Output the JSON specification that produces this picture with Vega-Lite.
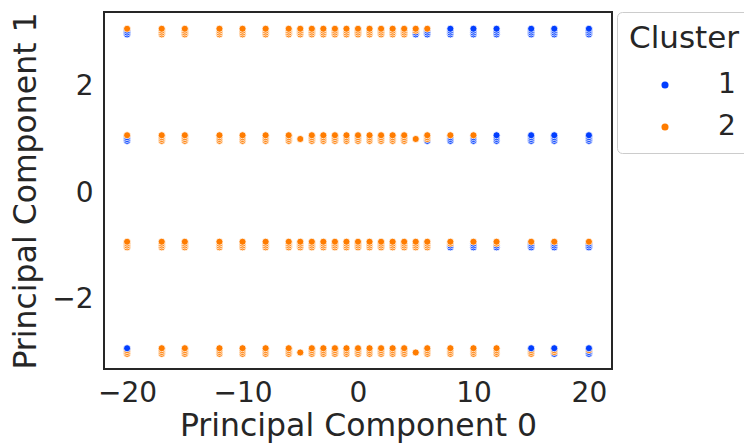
{
  "$schema": "https://vega.github.io/schema/vega-lite/v6.json",
  "width": 508,
  "height": 357,
  "autosize": "none",
  "padding": {"left": 104, "top": 12, "right": 132, "bottom": 77},
  "background": "white",
  "config": {
    "font": "DejaVu Sans",
    "view": {"stroke": "#262626", "strokeWidth": 2},
    "axis": {
      "grid": false, "domain": false, "ticks": false, "tickSize": 0,
      "labelFont": "DejaVu Sans", "labelFontSize": 28, "labelColor": "#262626",
      "titleFont": "DejaVu Sans", "titleFontSize": 31.5, "titleFontWeight": "normal", "titleColor": "#262626"
    }
  },
  "data": {"values": [
    {"pc0": -20, "pc1": 2.985, "Cluster": "1"}, {"pc0": -20, "pc1": 3.02, "Cluster": "1"}, {"pc0": -20, "pc1": 3.055, "Cluster": "1"}, {"pc0": -20, "pc1": 3.09, "Cluster": "2"},
    {"pc0": -17, "pc1": 2.985, "Cluster": "2"}, {"pc0": -17, "pc1": 3.02, "Cluster": "2"}, {"pc0": -17, "pc1": 3.055, "Cluster": "2"}, {"pc0": -17, "pc1": 3.09, "Cluster": "2"},
    {"pc0": -15, "pc1": 2.985, "Cluster": "2"}, {"pc0": -15, "pc1": 3.02, "Cluster": "2"}, {"pc0": -15, "pc1": 3.055, "Cluster": "2"}, {"pc0": -15, "pc1": 3.09, "Cluster": "2"},
    {"pc0": -12, "pc1": 2.985, "Cluster": "2"}, {"pc0": -12, "pc1": 3.02, "Cluster": "2"}, {"pc0": -12, "pc1": 3.055, "Cluster": "2"}, {"pc0": -12, "pc1": 3.09, "Cluster": "2"},
    {"pc0": -10, "pc1": 2.985, "Cluster": "2"}, {"pc0": -10, "pc1": 3.02, "Cluster": "2"}, {"pc0": -10, "pc1": 3.055, "Cluster": "2"}, {"pc0": -10, "pc1": 3.09, "Cluster": "2"},
    {"pc0": -8, "pc1": 2.985, "Cluster": "2"}, {"pc0": -8, "pc1": 3.02, "Cluster": "2"}, {"pc0": -8, "pc1": 3.055, "Cluster": "2"}, {"pc0": -8, "pc1": 3.09, "Cluster": "2"},
    {"pc0": -6, "pc1": 2.985, "Cluster": "2"}, {"pc0": -6, "pc1": 3.02, "Cluster": "2"}, {"pc0": -6, "pc1": 3.055, "Cluster": "2"}, {"pc0": -6, "pc1": 3.09, "Cluster": "2"},
    {"pc0": -5, "pc1": 2.985, "Cluster": "2"}, {"pc0": -5, "pc1": 3.02, "Cluster": "2"}, {"pc0": -5, "pc1": 3.055, "Cluster": "2"}, {"pc0": -5, "pc1": 3.09, "Cluster": "2"},
    {"pc0": -4, "pc1": 2.985, "Cluster": "2"}, {"pc0": -4, "pc1": 3.02, "Cluster": "2"}, {"pc0": -4, "pc1": 3.055, "Cluster": "2"}, {"pc0": -4, "pc1": 3.09, "Cluster": "2"},
    {"pc0": -3, "pc1": 2.985, "Cluster": "2"}, {"pc0": -3, "pc1": 3.02, "Cluster": "2"}, {"pc0": -3, "pc1": 3.055, "Cluster": "2"}, {"pc0": -3, "pc1": 3.09, "Cluster": "2"},
    {"pc0": -2, "pc1": 2.985, "Cluster": "2"}, {"pc0": -2, "pc1": 3.02, "Cluster": "2"}, {"pc0": -2, "pc1": 3.055, "Cluster": "2"}, {"pc0": -2, "pc1": 3.09, "Cluster": "2"},
    {"pc0": -1, "pc1": 2.985, "Cluster": "2"}, {"pc0": -1, "pc1": 3.02, "Cluster": "2"}, {"pc0": -1, "pc1": 3.055, "Cluster": "2"}, {"pc0": -1, "pc1": 3.09, "Cluster": "2"},
    {"pc0": 0, "pc1": 2.985, "Cluster": "2"}, {"pc0": 0, "pc1": 3.02, "Cluster": "2"}, {"pc0": 0, "pc1": 3.055, "Cluster": "2"}, {"pc0": 0, "pc1": 3.09, "Cluster": "2"},
    {"pc0": 1, "pc1": 2.985, "Cluster": "2"}, {"pc0": 1, "pc1": 3.02, "Cluster": "2"}, {"pc0": 1, "pc1": 3.055, "Cluster": "2"}, {"pc0": 1, "pc1": 3.09, "Cluster": "2"},
    {"pc0": 2, "pc1": 2.985, "Cluster": "2"}, {"pc0": 2, "pc1": 3.02, "Cluster": "2"}, {"pc0": 2, "pc1": 3.055, "Cluster": "2"}, {"pc0": 2, "pc1": 3.09, "Cluster": "2"},
    {"pc0": 3, "pc1": 2.985, "Cluster": "2"}, {"pc0": 3, "pc1": 3.02, "Cluster": "2"}, {"pc0": 3, "pc1": 3.055, "Cluster": "2"}, {"pc0": 3, "pc1": 3.09, "Cluster": "2"},
    {"pc0": 4, "pc1": 2.985, "Cluster": "2"}, {"pc0": 4, "pc1": 3.02, "Cluster": "2"}, {"pc0": 4, "pc1": 3.055, "Cluster": "2"}, {"pc0": 4, "pc1": 3.09, "Cluster": "2"},
    {"pc0": 5, "pc1": 2.985, "Cluster": "1"}, {"pc0": 5, "pc1": 3.02, "Cluster": "1"}, {"pc0": 5, "pc1": 3.055, "Cluster": "2"}, {"pc0": 5, "pc1": 3.09, "Cluster": "2"},
    {"pc0": 6, "pc1": 2.985, "Cluster": "1"}, {"pc0": 6, "pc1": 3.02, "Cluster": "1"}, {"pc0": 6, "pc1": 3.055, "Cluster": "1"}, {"pc0": 6, "pc1": 3.09, "Cluster": "2"},
    {"pc0": 8, "pc1": 2.985, "Cluster": "1"}, {"pc0": 8, "pc1": 3.02, "Cluster": "1"}, {"pc0": 8, "pc1": 3.055, "Cluster": "1"}, {"pc0": 8, "pc1": 3.09, "Cluster": "1"},
    {"pc0": 10, "pc1": 2.985, "Cluster": "1"}, {"pc0": 10, "pc1": 3.02, "Cluster": "1"}, {"pc0": 10, "pc1": 3.055, "Cluster": "1"}, {"pc0": 10, "pc1": 3.09, "Cluster": "1"},
    {"pc0": 12, "pc1": 2.985, "Cluster": "1"}, {"pc0": 12, "pc1": 3.02, "Cluster": "1"}, {"pc0": 12, "pc1": 3.055, "Cluster": "1"}, {"pc0": 12, "pc1": 3.09, "Cluster": "1"},
    {"pc0": 15, "pc1": 2.985, "Cluster": "1"}, {"pc0": 15, "pc1": 3.02, "Cluster": "1"}, {"pc0": 15, "pc1": 3.055, "Cluster": "1"}, {"pc0": 15, "pc1": 3.09, "Cluster": "1"},
    {"pc0": 17, "pc1": 2.985, "Cluster": "1"}, {"pc0": 17, "pc1": 3.02, "Cluster": "1"}, {"pc0": 17, "pc1": 3.055, "Cluster": "1"}, {"pc0": 17, "pc1": 3.09, "Cluster": "1"},
    {"pc0": 20, "pc1": 2.985, "Cluster": "1"}, {"pc0": 20, "pc1": 3.02, "Cluster": "1"}, {"pc0": 20, "pc1": 3.055, "Cluster": "1"}, {"pc0": 20, "pc1": 3.09, "Cluster": "1"},

    {"pc0": -20, "pc1": 0.985, "Cluster": "1"}, {"pc0": -20, "pc1": 1.02, "Cluster": "1"}, {"pc0": -20, "pc1": 1.055, "Cluster": "1"}, {"pc0": -20, "pc1": 1.09, "Cluster": "2"},
    {"pc0": -17, "pc1": 0.985, "Cluster": "2"}, {"pc0": -17, "pc1": 1.02, "Cluster": "2"}, {"pc0": -17, "pc1": 1.055, "Cluster": "2"}, {"pc0": -17, "pc1": 1.09, "Cluster": "2"},
    {"pc0": -15, "pc1": 0.985, "Cluster": "2"}, {"pc0": -15, "pc1": 1.02, "Cluster": "2"}, {"pc0": -15, "pc1": 1.055, "Cluster": "2"}, {"pc0": -15, "pc1": 1.09, "Cluster": "2"},
    {"pc0": -12, "pc1": 0.985, "Cluster": "2"}, {"pc0": -12, "pc1": 1.02, "Cluster": "2"}, {"pc0": -12, "pc1": 1.055, "Cluster": "2"}, {"pc0": -12, "pc1": 1.09, "Cluster": "2"},
    {"pc0": -10, "pc1": 0.985, "Cluster": "2"}, {"pc0": -10, "pc1": 1.02, "Cluster": "2"}, {"pc0": -10, "pc1": 1.055, "Cluster": "2"}, {"pc0": -10, "pc1": 1.09, "Cluster": "2"},
    {"pc0": -8, "pc1": 0.985, "Cluster": "2"}, {"pc0": -8, "pc1": 1.02, "Cluster": "2"}, {"pc0": -8, "pc1": 1.055, "Cluster": "2"}, {"pc0": -8, "pc1": 1.09, "Cluster": "2"},
    {"pc0": -6, "pc1": 0.985, "Cluster": "2"}, {"pc0": -6, "pc1": 1.02, "Cluster": "2"}, {"pc0": -6, "pc1": 1.055, "Cluster": "2"}, {"pc0": -6, "pc1": 1.09, "Cluster": "2"},
    {"pc0": -5, "pc1": 1.02, "Cluster": "2"},
    {"pc0": -4, "pc1": 0.985, "Cluster": "2"}, {"pc0": -4, "pc1": 1.02, "Cluster": "2"}, {"pc0": -4, "pc1": 1.055, "Cluster": "2"}, {"pc0": -4, "pc1": 1.09, "Cluster": "2"},
    {"pc0": -3, "pc1": 0.985, "Cluster": "2"}, {"pc0": -3, "pc1": 1.02, "Cluster": "2"}, {"pc0": -3, "pc1": 1.055, "Cluster": "2"}, {"pc0": -3, "pc1": 1.09, "Cluster": "2"},
    {"pc0": -2, "pc1": 0.985, "Cluster": "2"}, {"pc0": -2, "pc1": 1.02, "Cluster": "2"}, {"pc0": -2, "pc1": 1.055, "Cluster": "2"}, {"pc0": -2, "pc1": 1.09, "Cluster": "2"},
    {"pc0": -1, "pc1": 0.985, "Cluster": "2"}, {"pc0": -1, "pc1": 1.02, "Cluster": "2"}, {"pc0": -1, "pc1": 1.055, "Cluster": "2"}, {"pc0": -1, "pc1": 1.09, "Cluster": "2"},
    {"pc0": 0, "pc1": 0.985, "Cluster": "2"}, {"pc0": 0, "pc1": 1.02, "Cluster": "2"}, {"pc0": 0, "pc1": 1.055, "Cluster": "2"}, {"pc0": 0, "pc1": 1.09, "Cluster": "2"},
    {"pc0": 1, "pc1": 0.985, "Cluster": "2"}, {"pc0": 1, "pc1": 1.02, "Cluster": "2"}, {"pc0": 1, "pc1": 1.055, "Cluster": "2"}, {"pc0": 1, "pc1": 1.09, "Cluster": "2"},
    {"pc0": 2, "pc1": 0.985, "Cluster": "2"}, {"pc0": 2, "pc1": 1.02, "Cluster": "2"}, {"pc0": 2, "pc1": 1.055, "Cluster": "2"}, {"pc0": 2, "pc1": 1.09, "Cluster": "2"},
    {"pc0": 3, "pc1": 0.985, "Cluster": "2"}, {"pc0": 3, "pc1": 1.02, "Cluster": "2"}, {"pc0": 3, "pc1": 1.055, "Cluster": "2"}, {"pc0": 3, "pc1": 1.09, "Cluster": "2"},
    {"pc0": 4, "pc1": 0.985, "Cluster": "2"}, {"pc0": 4, "pc1": 1.02, "Cluster": "2"}, {"pc0": 4, "pc1": 1.055, "Cluster": "2"}, {"pc0": 4, "pc1": 1.09, "Cluster": "2"},
    {"pc0": 5, "pc1": 1.02, "Cluster": "2"},
    {"pc0": 6, "pc1": 0.985, "Cluster": "1"}, {"pc0": 6, "pc1": 1.02, "Cluster": "2"}, {"pc0": 6, "pc1": 1.055, "Cluster": "2"}, {"pc0": 6, "pc1": 1.09, "Cluster": "2"},
    {"pc0": 8, "pc1": 0.985, "Cluster": "1"}, {"pc0": 8, "pc1": 1.02, "Cluster": "1"}, {"pc0": 8, "pc1": 1.055, "Cluster": "1"}, {"pc0": 8, "pc1": 1.09, "Cluster": "2"},
    {"pc0": 10, "pc1": 0.985, "Cluster": "1"}, {"pc0": 10, "pc1": 1.02, "Cluster": "1"}, {"pc0": 10, "pc1": 1.055, "Cluster": "1"}, {"pc0": 10, "pc1": 1.09, "Cluster": "2"},
    {"pc0": 12, "pc1": 0.985, "Cluster": "1"}, {"pc0": 12, "pc1": 1.02, "Cluster": "1"}, {"pc0": 12, "pc1": 1.055, "Cluster": "1"}, {"pc0": 12, "pc1": 1.09, "Cluster": "1"},
    {"pc0": 15, "pc1": 0.985, "Cluster": "1"}, {"pc0": 15, "pc1": 1.02, "Cluster": "1"}, {"pc0": 15, "pc1": 1.055, "Cluster": "1"}, {"pc0": 15, "pc1": 1.09, "Cluster": "1"},
    {"pc0": 17, "pc1": 0.985, "Cluster": "1"}, {"pc0": 17, "pc1": 1.02, "Cluster": "1"}, {"pc0": 17, "pc1": 1.055, "Cluster": "1"}, {"pc0": 17, "pc1": 1.09, "Cluster": "1"},
    {"pc0": 20, "pc1": 0.985, "Cluster": "1"}, {"pc0": 20, "pc1": 1.02, "Cluster": "1"}, {"pc0": 20, "pc1": 1.055, "Cluster": "1"}, {"pc0": 20, "pc1": 1.09, "Cluster": "1"},

    {"pc0": -20, "pc1": -1.015, "Cluster": "2"}, {"pc0": -20, "pc1": -0.98, "Cluster": "2"}, {"pc0": -20, "pc1": -0.945, "Cluster": "2"}, {"pc0": -20, "pc1": -0.91, "Cluster": "2"},
    {"pc0": -17, "pc1": -1.015, "Cluster": "2"}, {"pc0": -17, "pc1": -0.98, "Cluster": "2"}, {"pc0": -17, "pc1": -0.945, "Cluster": "2"}, {"pc0": -17, "pc1": -0.91, "Cluster": "2"},
    {"pc0": -15, "pc1": -1.015, "Cluster": "2"}, {"pc0": -15, "pc1": -0.98, "Cluster": "2"}, {"pc0": -15, "pc1": -0.945, "Cluster": "2"}, {"pc0": -15, "pc1": -0.91, "Cluster": "2"},
    {"pc0": -12, "pc1": -1.015, "Cluster": "2"}, {"pc0": -12, "pc1": -0.98, "Cluster": "2"}, {"pc0": -12, "pc1": -0.945, "Cluster": "2"}, {"pc0": -12, "pc1": -0.91, "Cluster": "2"},
    {"pc0": -10, "pc1": -1.015, "Cluster": "2"}, {"pc0": -10, "pc1": -0.98, "Cluster": "2"}, {"pc0": -10, "pc1": -0.945, "Cluster": "2"}, {"pc0": -10, "pc1": -0.91, "Cluster": "2"},
    {"pc0": -8, "pc1": -1.015, "Cluster": "2"}, {"pc0": -8, "pc1": -0.98, "Cluster": "2"}, {"pc0": -8, "pc1": -0.945, "Cluster": "2"}, {"pc0": -8, "pc1": -0.91, "Cluster": "2"},
    {"pc0": -6, "pc1": -1.015, "Cluster": "2"}, {"pc0": -6, "pc1": -0.98, "Cluster": "2"}, {"pc0": -6, "pc1": -0.945, "Cluster": "2"}, {"pc0": -6, "pc1": -0.91, "Cluster": "2"},
    {"pc0": -5, "pc1": -1.015, "Cluster": "2"}, {"pc0": -5, "pc1": -0.98, "Cluster": "2"}, {"pc0": -5, "pc1": -0.945, "Cluster": "2"}, {"pc0": -5, "pc1": -0.91, "Cluster": "2"},
    {"pc0": -4, "pc1": -1.015, "Cluster": "2"}, {"pc0": -4, "pc1": -0.98, "Cluster": "2"}, {"pc0": -4, "pc1": -0.945, "Cluster": "2"}, {"pc0": -4, "pc1": -0.91, "Cluster": "2"},
    {"pc0": -3, "pc1": -1.015, "Cluster": "2"}, {"pc0": -3, "pc1": -0.98, "Cluster": "2"}, {"pc0": -3, "pc1": -0.945, "Cluster": "2"}, {"pc0": -3, "pc1": -0.91, "Cluster": "2"},
    {"pc0": -2, "pc1": -1.015, "Cluster": "2"}, {"pc0": -2, "pc1": -0.98, "Cluster": "2"}, {"pc0": -2, "pc1": -0.945, "Cluster": "2"}, {"pc0": -2, "pc1": -0.91, "Cluster": "2"},
    {"pc0": -1, "pc1": -1.015, "Cluster": "2"}, {"pc0": -1, "pc1": -0.98, "Cluster": "2"}, {"pc0": -1, "pc1": -0.945, "Cluster": "2"}, {"pc0": -1, "pc1": -0.91, "Cluster": "2"},
    {"pc0": 0, "pc1": -1.015, "Cluster": "2"}, {"pc0": 0, "pc1": -0.98, "Cluster": "2"}, {"pc0": 0, "pc1": -0.945, "Cluster": "2"}, {"pc0": 0, "pc1": -0.91, "Cluster": "2"},
    {"pc0": 1, "pc1": -1.015, "Cluster": "2"}, {"pc0": 1, "pc1": -0.98, "Cluster": "2"}, {"pc0": 1, "pc1": -0.945, "Cluster": "2"}, {"pc0": 1, "pc1": -0.91, "Cluster": "2"},
    {"pc0": 2, "pc1": -1.015, "Cluster": "2"}, {"pc0": 2, "pc1": -0.98, "Cluster": "2"}, {"pc0": 2, "pc1": -0.945, "Cluster": "2"}, {"pc0": 2, "pc1": -0.91, "Cluster": "2"},
    {"pc0": 3, "pc1": -1.015, "Cluster": "2"}, {"pc0": 3, "pc1": -0.98, "Cluster": "2"}, {"pc0": 3, "pc1": -0.945, "Cluster": "2"}, {"pc0": 3, "pc1": -0.91, "Cluster": "2"},
    {"pc0": 4, "pc1": -1.015, "Cluster": "2"}, {"pc0": 4, "pc1": -0.98, "Cluster": "2"}, {"pc0": 4, "pc1": -0.945, "Cluster": "2"}, {"pc0": 4, "pc1": -0.91, "Cluster": "2"},
    {"pc0": 5, "pc1": -1.015, "Cluster": "2"}, {"pc0": 5, "pc1": -0.98, "Cluster": "2"}, {"pc0": 5, "pc1": -0.945, "Cluster": "2"}, {"pc0": 5, "pc1": -0.91, "Cluster": "2"},
    {"pc0": 6, "pc1": -1.015, "Cluster": "2"}, {"pc0": 6, "pc1": -0.98, "Cluster": "2"}, {"pc0": 6, "pc1": -0.945, "Cluster": "2"}, {"pc0": 6, "pc1": -0.91, "Cluster": "2"},
    {"pc0": 8, "pc1": -1.015, "Cluster": "1"}, {"pc0": 8, "pc1": -0.98, "Cluster": "1"}, {"pc0": 8, "pc1": -0.945, "Cluster": "2"}, {"pc0": 8, "pc1": -0.91, "Cluster": "2"},
    {"pc0": 10, "pc1": -1.015, "Cluster": "1"}, {"pc0": 10, "pc1": -0.98, "Cluster": "1"}, {"pc0": 10, "pc1": -0.945, "Cluster": "1"}, {"pc0": 10, "pc1": -0.91, "Cluster": "2"},
    {"pc0": 12, "pc1": -1.015, "Cluster": "1"}, {"pc0": 12, "pc1": -0.98, "Cluster": "1"}, {"pc0": 12, "pc1": -0.945, "Cluster": "2"}, {"pc0": 12, "pc1": -0.91, "Cluster": "2"},
    {"pc0": 15, "pc1": -1.015, "Cluster": "1"}, {"pc0": 15, "pc1": -0.98, "Cluster": "1"}, {"pc0": 15, "pc1": -0.945, "Cluster": "1"}, {"pc0": 15, "pc1": -0.91, "Cluster": "2"},
    {"pc0": 17, "pc1": -1.015, "Cluster": "1"}, {"pc0": 17, "pc1": -0.98, "Cluster": "1"}, {"pc0": 17, "pc1": -0.945, "Cluster": "1"}, {"pc0": 17, "pc1": -0.91, "Cluster": "2"},
    {"pc0": 20, "pc1": -1.015, "Cluster": "1"}, {"pc0": 20, "pc1": -0.98, "Cluster": "1"}, {"pc0": 20, "pc1": -0.945, "Cluster": "1"}, {"pc0": 20, "pc1": -0.91, "Cluster": "2"},

    {"pc0": -20, "pc1": -3.015, "Cluster": "2"}, {"pc0": -20, "pc1": -2.98, "Cluster": "2"}, {"pc0": -20, "pc1": -2.945, "Cluster": "2"}, {"pc0": -20, "pc1": -2.91, "Cluster": "1"},
    {"pc0": -17, "pc1": -3.015, "Cluster": "2"}, {"pc0": -17, "pc1": -2.98, "Cluster": "2"}, {"pc0": -17, "pc1": -2.945, "Cluster": "2"}, {"pc0": -17, "pc1": -2.91, "Cluster": "2"},
    {"pc0": -15, "pc1": -3.015, "Cluster": "2"}, {"pc0": -15, "pc1": -2.98, "Cluster": "2"}, {"pc0": -15, "pc1": -2.945, "Cluster": "2"}, {"pc0": -15, "pc1": -2.91, "Cluster": "2"},
    {"pc0": -12, "pc1": -3.015, "Cluster": "2"}, {"pc0": -12, "pc1": -2.98, "Cluster": "2"}, {"pc0": -12, "pc1": -2.945, "Cluster": "2"}, {"pc0": -12, "pc1": -2.91, "Cluster": "2"},
    {"pc0": -10, "pc1": -3.015, "Cluster": "2"}, {"pc0": -10, "pc1": -2.98, "Cluster": "2"}, {"pc0": -10, "pc1": -2.945, "Cluster": "2"}, {"pc0": -10, "pc1": -2.91, "Cluster": "2"},
    {"pc0": -8, "pc1": -3.015, "Cluster": "2"}, {"pc0": -8, "pc1": -2.98, "Cluster": "2"}, {"pc0": -8, "pc1": -2.945, "Cluster": "2"}, {"pc0": -8, "pc1": -2.91, "Cluster": "2"},
    {"pc0": -6, "pc1": -3.015, "Cluster": "2"}, {"pc0": -6, "pc1": -2.98, "Cluster": "2"}, {"pc0": -6, "pc1": -2.945, "Cluster": "2"}, {"pc0": -6, "pc1": -2.91, "Cluster": "2"},
    {"pc0": -5, "pc1": -2.99, "Cluster": "2"},
    {"pc0": -4, "pc1": -3.015, "Cluster": "2"}, {"pc0": -4, "pc1": -2.98, "Cluster": "2"}, {"pc0": -4, "pc1": -2.945, "Cluster": "2"}, {"pc0": -4, "pc1": -2.91, "Cluster": "2"},
    {"pc0": -3, "pc1": -3.015, "Cluster": "2"}, {"pc0": -3, "pc1": -2.98, "Cluster": "2"}, {"pc0": -3, "pc1": -2.945, "Cluster": "2"}, {"pc0": -3, "pc1": -2.91, "Cluster": "2"},
    {"pc0": -2, "pc1": -3.015, "Cluster": "2"}, {"pc0": -2, "pc1": -2.98, "Cluster": "2"}, {"pc0": -2, "pc1": -2.945, "Cluster": "2"}, {"pc0": -2, "pc1": -2.91, "Cluster": "2"},
    {"pc0": -1, "pc1": -3.015, "Cluster": "2"}, {"pc0": -1, "pc1": -2.98, "Cluster": "2"}, {"pc0": -1, "pc1": -2.945, "Cluster": "2"}, {"pc0": -1, "pc1": -2.91, "Cluster": "2"},
    {"pc0": 0, "pc1": -3.015, "Cluster": "2"}, {"pc0": 0, "pc1": -2.98, "Cluster": "2"}, {"pc0": 0, "pc1": -2.945, "Cluster": "2"}, {"pc0": 0, "pc1": -2.91, "Cluster": "2"},
    {"pc0": 1, "pc1": -3.015, "Cluster": "2"}, {"pc0": 1, "pc1": -2.98, "Cluster": "2"}, {"pc0": 1, "pc1": -2.945, "Cluster": "2"}, {"pc0": 1, "pc1": -2.91, "Cluster": "2"},
    {"pc0": 2, "pc1": -3.015, "Cluster": "2"}, {"pc0": 2, "pc1": -2.98, "Cluster": "2"}, {"pc0": 2, "pc1": -2.945, "Cluster": "2"}, {"pc0": 2, "pc1": -2.91, "Cluster": "2"},
    {"pc0": 3, "pc1": -3.015, "Cluster": "2"}, {"pc0": 3, "pc1": -2.98, "Cluster": "2"}, {"pc0": 3, "pc1": -2.945, "Cluster": "2"}, {"pc0": 3, "pc1": -2.91, "Cluster": "2"},
    {"pc0": 4, "pc1": -3.015, "Cluster": "2"}, {"pc0": 4, "pc1": -2.98, "Cluster": "2"}, {"pc0": 4, "pc1": -2.945, "Cluster": "2"}, {"pc0": 4, "pc1": -2.91, "Cluster": "2"},
    {"pc0": 5, "pc1": -2.99, "Cluster": "2"},
    {"pc0": 6, "pc1": -3.015, "Cluster": "2"}, {"pc0": 6, "pc1": -2.98, "Cluster": "2"}, {"pc0": 6, "pc1": -2.945, "Cluster": "2"}, {"pc0": 6, "pc1": -2.91, "Cluster": "2"},
    {"pc0": 8, "pc1": -3.015, "Cluster": "2"}, {"pc0": 8, "pc1": -2.98, "Cluster": "2"}, {"pc0": 8, "pc1": -2.945, "Cluster": "2"}, {"pc0": 8, "pc1": -2.91, "Cluster": "2"},
    {"pc0": 10, "pc1": -3.015, "Cluster": "2"}, {"pc0": 10, "pc1": -2.98, "Cluster": "2"}, {"pc0": 10, "pc1": -2.945, "Cluster": "2"}, {"pc0": 10, "pc1": -2.91, "Cluster": "2"},
    {"pc0": 12, "pc1": -3.015, "Cluster": "2"}, {"pc0": 12, "pc1": -2.98, "Cluster": "2"}, {"pc0": 12, "pc1": -2.945, "Cluster": "2"}, {"pc0": 12, "pc1": -2.91, "Cluster": "2"},
    {"pc0": 15, "pc1": -3.015, "Cluster": "2"}, {"pc0": 15, "pc1": -2.98, "Cluster": "2"}, {"pc0": 15, "pc1": -2.945, "Cluster": "2"}, {"pc0": 15, "pc1": -2.91, "Cluster": "1"},
    {"pc0": 17, "pc1": -3.015, "Cluster": "1"}, {"pc0": 17, "pc1": -2.98, "Cluster": "2"}, {"pc0": 17, "pc1": -2.945, "Cluster": "2"}, {"pc0": 17, "pc1": -2.91, "Cluster": "1"},
    {"pc0": 20, "pc1": -3.015, "Cluster": "1"}, {"pc0": 20, "pc1": -2.98, "Cluster": "1"}, {"pc0": 20, "pc1": -2.945, "Cluster": "2"}, {"pc0": 20, "pc1": -2.91, "Cluster": "1"}
  ]},
  "mark": {"type": "point", "filled": true, "size": 50, "opacity": 1, "stroke": "white", "strokeWidth": 0.8},
  "encoding": {
    "x": {
      "field": "pc0", "type": "quantitative",
      "scale": {"domain": [-22, 22], "nice": false, "zero": false},
      "axis": {"values": [-20, -10, 0, 10, 20], "title": "Principal Component 0", "labelPadding": 10, "titlePadding": 3}
    },
    "y": {
      "field": "pc1", "type": "quantitative",
      "scale": {"domain": [-3.3, 3.405], "nice": false, "zero": false},
      "axis": {"values": [-2, 0, 2], "title": "Principal Component 1", "labelPadding": 11, "titlePadding": 9}
    },
    "color": {
      "field": "Cluster", "type": "nominal",
      "scale": {"domain": ["1", "2"], "range": ["#023eff", "#ff7c00"]},
      "legend": {
        "orient": "none", "legendX": 513, "legendY": 0,
        "padding": 12, "cornerRadius": 5, "strokeColor": "#cccccc", "fillColor": "white",
        "titleFontSize": 31, "titleFontWeight": "normal", "titleColor": "#262626", "titleFont": "DejaVu Sans", "titlePadding": 16,
        "labelFontSize": 28, "labelColor": "#262626", "labelFont": "DejaVu Sans", "labelOffset": 39,
        "symbolType": "circle", "symbolSize": 50, "symbolStrokeWidth": 0, "symbolOffset": 22, "rowPadding": 14
      }
    },
    "order": {"field": "pc1", "type": "quantitative", "sort": "ascending"}
  }
}
